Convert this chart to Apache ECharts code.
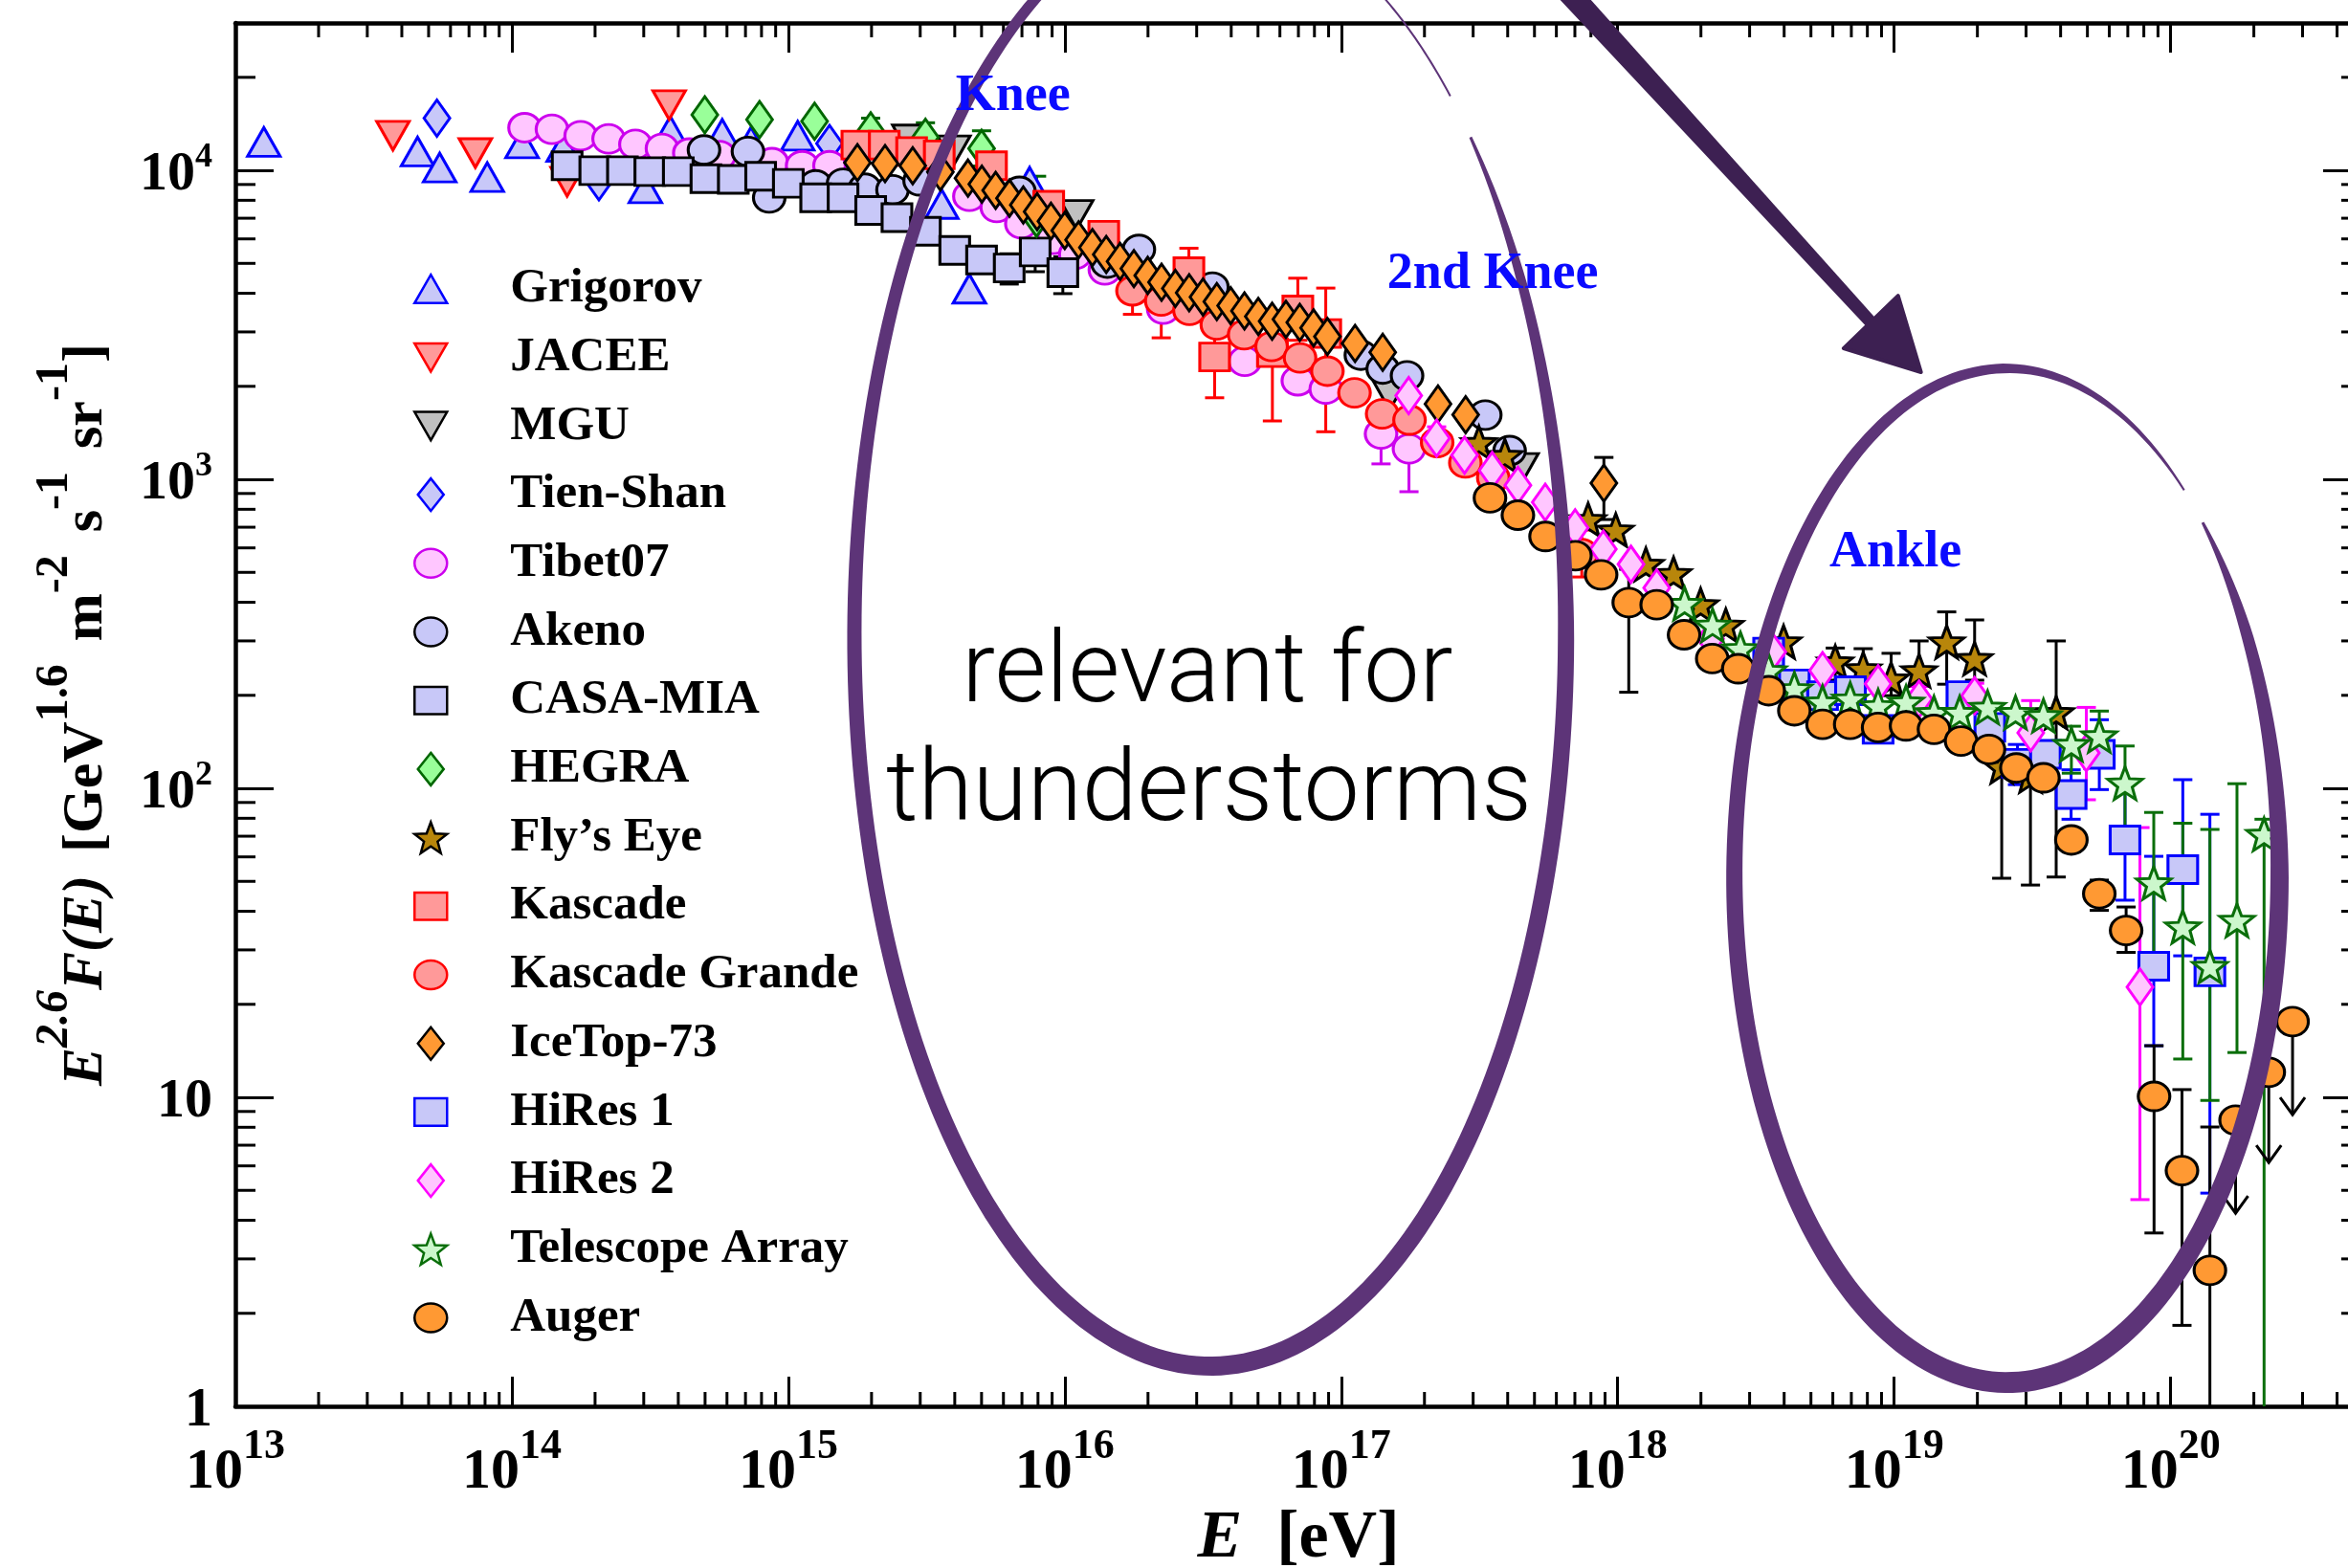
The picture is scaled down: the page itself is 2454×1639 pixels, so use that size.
<!DOCTYPE html>
<html>
<head>
<meta charset="utf-8">
<title>Cosmic ray all-particle spectrum</title>
<script src="https://cdn.jsdelivr.net/npm/echarts@6/dist/echarts.min.js"></script>
<style>
  html, body { margin: 0; padding: 0; background: #ffffff; }
  #chart { width: 2454px; height: 1639px; }
</style>
</head>
<body>
<div id="chart"></div>
<script>
// ---------------------------------------------------------------------------
// Measurements, stored as [log10(E / eV), log10(E^2.6 F(E))]
// ---------------------------------------------------------------------------
const GRIGOROV = [
  [13.103, 4.092], [13.659, 4.061], [13.739, 4.009], [13.911, 3.978], [14.037, 4.087],
  [14.186, 4.076], [14.483, 3.942], [14.573, 4.128], [14.761, 4.118], [14.865, 4.093],
  [15.034, 4.112], [15.555, 3.891], [15.655, 3.617], [15.873, 3.963]
];
const JACEE = [[13.570, 4.112], [13.868, 4.056], [14.200, 3.963], [14.569, 4.211]];
const MGU = [[15.436, 4.100], [15.599, 4.065], [16.043, 3.856], [17.175, 3.271], [17.654, 3.037]];
const TIEN_SHAN = [[13.729, 4.169], [14.315, 3.963], [15.149, 4.087]];
const TIBET07 = [
  [14.046, 4.138], [14.145, 4.133], [14.249, 4.112], [14.350, 4.102], [14.447, 4.084],
  [14.543, 4.071], [14.642, 4.056], [14.751, 4.048], [14.941, 4.025], [15.050, 4.015],
  [15.149, 4.015], [15.655, 3.916], [15.754, 3.880], [15.843, 3.827], [15.959, 3.777],
  [16.038, 3.728], [16.145, 3.678], [16.356, 3.551], [16.651, 3.382], [16.843, 3.319],
  [16.944, 3.292], [17.144, 3.147], [17.245, 3.099]
];
const AKENO = [
  [14.695, 4.066], [14.854, 4.061], [14.931, 3.911], [15.099, 3.953], [15.198, 3.958],
  [15.277, 3.942], [15.377, 3.937], [15.475, 3.966], [15.836, 3.932], [16.154, 3.700],
  [16.268, 3.744], [16.534, 3.622], [17.071, 3.402], [17.150, 3.357], [17.238, 3.335],
  [17.521, 3.208], [17.609, 3.093]
];
const CASA_MIA = [
  [14.200, 4.015], [14.300, 3.999], [14.400, 3.999], [14.499, 3.996], [14.602, 3.996],
  [14.702, 3.973], [14.801, 3.971], [14.900, 3.981], [15.000, 3.958], [15.099, 3.911],
  [15.198, 3.911], [15.298, 3.870], [15.393, 3.847], [15.496, 3.803], [15.602, 3.741],
  [15.699, 3.710], [15.799, 3.684], [15.893, 3.736], [15.993, 3.669]
];
const HEGRA = [[14.698, 4.180], [14.896, 4.164], [15.095, 4.159], [15.298, 4.128], [15.496, 4.107], [15.699, 4.071], [15.898, 3.845]];
const FLYS_EYE = [
  [17.498, 3.119], [17.592, 3.077], [17.893, 2.870], [17.993, 2.836], [18.102, 2.725],
  [18.202, 2.695], [18.300, 2.594], [18.391, 2.528], [18.600, 2.474], [18.787, 2.409],
  [18.888, 2.387], [18.989, 2.354], [19.090, 2.381], [19.190, 2.474], [19.291, 2.420],
  [19.389, 2.070], [19.493, 2.040], [19.586, 2.245]
];
const KASCADE = [
  [15.248, 4.082], [15.347, 4.082], [15.446, 4.061], [15.546, 4.050], [15.735, 4.015],
  [15.942, 3.887], [16.141, 3.790], [16.449, 3.672], [16.542, 3.396], [16.751, 3.410],
  [16.843, 3.548], [16.944, 3.472]
];
const KASCADE_GRANDE = [
  [16.245, 3.610], [16.349, 3.577], [16.451, 3.547], [16.550, 3.500], [16.649, 3.468],
  [16.748, 3.430], [16.851, 3.393], [16.950, 3.350], [17.048, 3.280], [17.148, 3.212],
  [17.247, 3.192], [17.347, 3.119], [17.449, 3.053], [17.550, 3.005], [17.870, 2.760]
];
const ICETOP_73 = [
  [15.25, 4.025], [15.35, 4.022], [15.45, 4.015], [15.55, 3.995], [15.65, 3.975],
  [15.70, 3.955], [15.75, 3.935], [15.80, 3.910], [15.85, 3.888], [15.90, 3.866],
  [15.95, 3.835], [16.00, 3.805], [16.05, 3.775], [16.10, 3.750], [16.15, 3.728],
  [16.20, 3.705], [16.25, 3.682], [16.30, 3.660], [16.35, 3.638], [16.40, 3.618],
  [16.45, 3.604], [16.50, 3.590], [16.55, 3.575], [16.60, 3.562], [16.65, 3.545],
  [16.70, 3.527], [16.75, 3.512], [16.80, 3.518], [16.85, 3.508], [16.90, 3.490],
  [16.95, 3.462], [17.05, 3.440], [17.15, 3.411], [17.35, 3.244], [17.45, 3.209],
  [17.95, 2.988]
];
const HIRES_1 = [
  [18.546, 2.441], [18.639, 2.338], [18.741, 2.300], [18.842, 2.316], [18.942, 2.191],
  [19.245, 2.300], [19.346, 2.197], [19.446, 2.081], [19.547, 2.110], [19.640, 1.980],
  [19.742, 2.110], [19.835, 1.833], [19.939, 1.424], [20.044, 1.737], [20.142, 1.406]
];
const HIRES_2 = [
  [17.244, 3.271], [17.345, 3.133], [17.446, 3.078], [17.546, 3.029], [17.639, 2.981],
  [17.738, 2.926], [17.846, 2.843], [17.948, 2.774], [18.048, 2.725], [18.141, 2.649],
  [18.336, 2.484], [18.561, 2.441], [18.741, 2.381], [18.942, 2.338], [19.090, 2.289],
  [19.291, 2.300], [19.494, 2.180], [19.695, 2.115], [19.889, 1.357]
];
const TELESCOPE_ARRAY = [
  [18.242, 2.598], [18.343, 2.528], [18.444, 2.452], [18.546, 2.381], [18.639, 2.322],
  [18.741, 2.279], [18.841, 2.289], [18.942, 2.267], [19.043, 2.279], [19.144, 2.245],
  [19.237, 2.245], [19.338, 2.262], [19.439, 2.245], [19.540, 2.235], [19.641, 2.142],
  [19.742, 2.170], [19.835, 2.017], [19.939, 1.694], [20.044, 1.552], [20.142, 1.424],
  [20.240, 1.573], [20.338, 1.851]
];
const AUGER = [
  [17.538, 2.940], [17.639, 2.884], [17.739, 2.815], [17.847, 2.753], [17.940, 2.691],
  [18.040, 2.601], [18.141, 2.594], [18.240, 2.497], [18.342, 2.420], [18.436, 2.387],
  [18.546, 2.316], [18.639, 2.251], [18.741, 2.207], [18.841, 2.207], [18.942, 2.197],
  [19.043, 2.202], [19.144, 2.191], [19.242, 2.153], [19.343, 2.126], [19.442, 2.066],
  [19.540, 2.034], [19.641, 1.833], [19.742, 1.659], [19.839, 1.540], [19.940, 1.003],
  [20.041, 0.763], [20.142, 0.440], [20.235, 0.926], [20.355, 1.081], [20.441, 1.245]
];

// Error bars: [log10 E, log10 lower, log10 upper]
const HEGRA_ERR = [[15.298, 4.087, 4.169], [15.496, 4.060, 4.154], [15.699, 4.014, 4.128], [15.898, 3.706, 3.981]];
const TIBET07_ERR = [[17.144, 3.050, 3.200], [17.245, 2.960, 3.200]];
const CASA_MIA_ERR = [[15.699, 3.670, 3.750], [15.799, 3.632, 3.730], [15.893, 3.672, 3.777], [15.993, 3.601, 3.720]];
const FLYS_EYE_ERR = [
  [18.787, 2.350, 2.454], [18.888, 2.330, 2.452], [18.989, 2.300, 2.437], [19.090, 2.330, 2.477],
  [19.190, 2.337, 2.571], [19.291, 2.350, 2.545], [19.389, 1.709, 2.257], [19.493, 1.687, 2.257],
  [19.586, 1.713, 2.477]
];
const KASCADE_ERR = [[16.141, 3.750, 3.831], [16.449, 3.600, 3.748], [16.542, 3.264, 3.470], [16.751, 3.189, 3.520], [16.843, 3.450, 3.651], [16.944, 3.154, 3.619]];
const KASCADE_GRANDE_ERR = [[16.245, 3.534, 3.680], [16.349, 3.458, 3.650], [17.870, 2.684, 2.836]];
const ICETOP_73_ERR = [[17.95, 2.870, 3.071]];
const HIRES_1_ERR = [
  [19.245, 2.270, 2.330], [19.446, 2.012, 2.142], [19.640, 1.900, 2.060], [19.742, 1.996, 2.222],
  [19.835, 1.638, 2.028], [19.939, 1.167, 1.780], [20.044, 1.458, 2.028], [20.142, 0.690, 1.916]
];
const HIRES_2_ERR = [
  [17.244, 3.202, 3.362], [17.345, 3.100, 3.170], [19.090, 2.250, 2.330], [19.291, 2.260, 2.340],
  [19.494, 2.088, 2.284], [19.695, 1.963, 2.262], [19.889, 0.669, 1.873]
];
const TELESCOPE_ARRAY_ERR = [
  [19.641, 2.049, 2.201], [19.742, 2.090, 2.250], [19.835, 1.866, 2.137], [19.939, 1.459, 1.922],
  [20.044, 1.124, 1.887], [20.142, 0.990, 1.867], [20.240, 1.145, 2.015], [20.338, 0.000, 1.900]
];
const AUGER_ERR = [
  [18.040, 2.311, 2.709], [19.742, 1.605, 1.703], [19.839, 1.469, 1.616],
  [19.940, 0.561, 1.167], [20.041, 0.262, 1.025], [20.142, 0.000, 0.904]
];
// Upper limits: [log10 E, log10 value, log10 arrow tip]
const AUGER_LIMITS = [[20.235, 0.926, 0.625], [20.355, 1.081, 0.789], [20.441, 1.245, 0.944]];

// Axis ranges (log10 exponents)
const X_EXP_RANGE = [13, 20.69];
const Y_EXP_RANGE = [0, 4.477];

// Region labels
const REGION_LABELS = [
  { text: 'Knee', at: [15.813, 4.238] },
  { text: '2nd Knee', at: [17.548, 3.663] },
  { text: 'Ankle', at: [19.005, 2.762] }
];
const NOTE_LINES = [
  { text: 'relevant for', at: [16.516, 2.362] },
  { text: 'thunderstorms', at: [16.521, 1.977] }
];

// ---------------------------------------------------------------------------
// Helpers and styles
// ---------------------------------------------------------------------------
const pow10 = e => Math.pow(10, e);
const toPoint = ([e, f]) => [pow10(e), pow10(f)];
const X_MIN = pow10(X_EXP_RANGE[0]), X_MAX = pow10(X_EXP_RANGE[1]);
const Y_MIN = pow10(Y_EXP_RANGE[0]), Y_MAX = pow10(Y_EXP_RANGE[1]);
const SERIF = 'Liberation Serif';

// Path symbols stretch to symbolSize in the plot and keep their aspect in the legend
const SYM = {
  triUp: 'path://M50,0L100,87L0,87Z',
  triDown: 'path://M0,0L100,0L50,87Z',
  diamond: 'path://M50,0L100,63L50,126L0,63Z',
  ellipse: 'path://M0,44A50,44 0 1 1 100,44A50,44 0 1 1 0,44Z',
  square: 'path://M0,0L100,0L100,84L0,84Z',
  star: 'path://M50,0L62.3,33L97.6,34.5L70,56.5L79.4,90.5L50,71L20.6,90.5L30,56.5L2.4,34.5L37.7,33Z'
};
const SIZE = { tri: [34, 30], diamond: [27, 38], ellipse: [33, 30], square: [31, 29], star: [36, 34] };

const LAVENDER = '#c8c8f8', LIGHT_RED = '#ff9999', PINK = '#ffc6ff', ORANGE = '#ff9933';

const EXPERIMENTS = [
  { name: 'Grigorov', data: GRIGOROV, err: null, symbol: SYM.triUp, size: SIZE.tri, fill: LAVENDER, stroke: '#0000ff' },
  { name: 'JACEE', data: JACEE, err: null, symbol: SYM.triDown, size: SIZE.tri, fill: LIGHT_RED, stroke: '#ff0000' },
  { name: 'MGU', data: MGU, err: null, symbol: SYM.triDown, size: SIZE.tri, fill: '#c0c0c0', stroke: '#000000' },
  { name: 'Tien-Shan', data: TIEN_SHAN, err: null, symbol: SYM.diamond, size: SIZE.diamond, fill: LAVENDER, stroke: '#0000ff' },
  { name: 'Tibet07', data: TIBET07, err: TIBET07_ERR, symbol: SYM.ellipse, size: SIZE.ellipse, fill: PINK, stroke: '#cc00ee' },
  { name: 'Akeno', data: AKENO, err: null, symbol: SYM.ellipse, size: SIZE.ellipse, fill: LAVENDER, stroke: '#000000' },
  { name: 'CASA-MIA', data: CASA_MIA, err: CASA_MIA_ERR, symbol: SYM.square, size: SIZE.square, fill: LAVENDER, stroke: '#000000' },
  { name: 'HEGRA', data: HEGRA, err: HEGRA_ERR, symbol: SYM.diamond, size: SIZE.diamond, fill: '#99ff99', stroke: '#006600' },
  { name: 'Fly\u2019s Eye', data: FLYS_EYE, err: FLYS_EYE_ERR, symbol: SYM.star, size: SIZE.star, fill: '#b8860b', stroke: '#000000' },
  { name: 'Kascade', data: KASCADE, err: KASCADE_ERR, symbol: SYM.square, size: SIZE.square, fill: LIGHT_RED, stroke: '#ff0000' },
  { name: 'Kascade Grande', data: KASCADE_GRANDE, err: KASCADE_GRANDE_ERR, symbol: SYM.ellipse, size: SIZE.ellipse, fill: LIGHT_RED, stroke: '#ff0000' },
  { name: 'IceTop-73', data: ICETOP_73, err: ICETOP_73_ERR, symbol: SYM.diamond, size: SIZE.diamond, fill: ORANGE, stroke: '#000000' },
  { name: 'HiRes 1', data: HIRES_1, err: HIRES_1_ERR, symbol: SYM.square, size: SIZE.square, fill: LAVENDER, stroke: '#0000ff' },
  { name: 'HiRes 2', data: HIRES_2, err: HIRES_2_ERR, symbol: SYM.diamond, size: SIZE.diamond, fill: PINK, stroke: '#ff00ff' },
  { name: 'Telescope Array', data: TELESCOPE_ARRAY, err: TELESCOPE_ARRAY_ERR, symbol: SYM.star, size: SIZE.star, fill: '#ccf7cc', stroke: '#0a6e0a' },
  { name: 'Auger', data: AUGER, err: AUGER_ERR, symbol: SYM.ellipse, size: SIZE.ellipse, fill: ORANGE, stroke: '#000000' }
];

// ---------------------------------------------------------------------------
// Series builders
// ---------------------------------------------------------------------------
function scatterSeries(exp) {
  return {
    type: 'scatter',
    name: exp.name,
    data: exp.data.map(toPoint),
    symbol: exp.symbol,
    symbolSize: exp.size,
    itemStyle: { color: exp.fill, borderColor: exp.stroke, borderWidth: 3, opacity: 1 },
    emphasis: { disabled: true },
    silent: true,
    z: 3
  };
}

function errorBarSeries(exp) {
  const color = exp.stroke;
  return {
    type: 'custom',
    name: exp.name + ' uncertainty',
    data: exp.err.map(([e, lo, hi]) => [pow10(e), pow10(lo), pow10(hi)]),
    encode: { x: 0, y: [1, 2] },
    silent: true,
    z: 2,
    renderItem: (params, api) => {
      const x = api.value(0);
      const pLo = api.coord([x, api.value(1)]);
      const pHi = api.coord([x, api.value(2)]);
      const hw = 10;
      const style = { stroke: color, lineWidth: 3, fill: null };
      const children = [
        { type: 'line', shape: { x1: pLo[0], y1: pLo[1], x2: pHi[0], y2: pHi[1] }, style },
        { type: 'line', shape: { x1: pHi[0] - hw, y1: pHi[1], x2: pHi[0] + hw, y2: pHi[1] }, style }
      ];
      if (api.value(1) > Y_MIN * 1.0001) {
        children.push({ type: 'line', shape: { x1: pLo[0] - hw, y1: pLo[1], x2: pLo[0] + hw, y2: pLo[1] }, style });
      }
      return { type: 'group', children };
    }
  };
}

function upperLimitSeries(rows, color) {
  return {
    type: 'custom',
    name: 'Auger upper limits',
    data: rows.map(([e, v, tip]) => [pow10(e), pow10(v), pow10(tip)]),
    encode: { x: 0, y: [1, 2] },
    silent: true,
    z: 2,
    renderItem: (params, api) => {
      const x = api.value(0);
      const p0 = api.coord([x, api.value(1)]);
      const p1 = api.coord([x, api.value(2)]);
      const style = { stroke: color, lineWidth: 3, fill: null };
      return {
        type: 'group',
        children: [
          { type: 'line', shape: { x1: p0[0], y1: p0[1], x2: p1[0], y2: p1[1] }, style },
          { type: 'polyline', shape: { points: [[p1[0] - 13, p1[1] - 18], [p1[0], p1[1]], [p1[0] + 13, p1[1] - 18]] }, style }
        ]
      };
    }
  };
}

// Minor log ticks (2..9 x 10^k) drawn on all four frame sides
const X_MINOR = [];
for (let k = 13; k <= 20; k++) for (let m = 2; m <= 9; m++) { const v = m * pow10(k); if (v < X_MAX) X_MINOR.push(v); }
const Y_MINOR = [];
for (let k = 0; k <= 4; k++) for (let m = 2; m <= 9; m++) { const v = m * pow10(k); if (v < Y_MAX) Y_MINOR.push(v); }

function minorTickSeries(values, horizontal) {
  return {
    type: 'custom',
    name: horizontal ? 'x minor ticks' : 'y minor ticks',
    data: values.map(v => horizontal ? [v, Y_MIN] : [X_MIN, v]),
    silent: true,
    clip: false,
    z: 4,
    renderItem: (params, api) => {
      const cs = params.coordSys;
      const style = { stroke: '#000', lineWidth: 3 };
      if (horizontal) {
        const px = api.coord([api.value(0), Y_MIN])[0];
        const yb = cs.y + cs.height, yt = cs.y, len = 15;
        return { type: 'group', children: [
          { type: 'line', shape: { x1: px, y1: yb, x2: px, y2: yb - len }, style },
          { type: 'line', shape: { x1: px, y1: yt, x2: px, y2: yt + len }, style }
        ] };
      }
      const py = api.coord([X_MIN, api.value(1)])[1];
      const xl = cs.x, xr = cs.x + cs.width, len = 21;
      return { type: 'group', children: [
        { type: 'line', shape: { x1: xl, y1: py, x2: xl + len, y2: py }, style },
        { type: 'line', shape: { x1: xr, y1: py, x2: xr - len, y2: py }, style }
      ] };
    }
  };
}

// ---------------------------------------------------------------------------
// Hand-drawn style annotations, anchored in data space (log10 units)
// ---------------------------------------------------------------------------
const ELLIPSES = [
  { center: [16.526, 2.495], radii: [1.287, 2.365], from: -0.75, to: 4.75,
    widths: [[-0.75, 3], [-0.5, 10], [0, 17], [1.571, 20], [3.142, 15], [4.75, 9]] },
  { center: [19.408, 1.718], radii: [0.986, 1.641], from: -0.77, to: 5.42,
    widths: [[-0.77, 3], [-0.5, 12], [0, 19], [1.571, 22], [3.142, 17], [4.712, 10], [5.42, 2]] }
];
const THIN_ARC = { ellipse: 0, from: -1.25, to: -0.83, width: 2 };
const ARROW = { tail: [17.817, 4.582], base: [18.915, 3.509], tailWidth: 24, baseWidth: 13,
  head: [[19.097, 3.347], [18.817, 3.424], [19.014, 3.594]] };

function widthAt(profile, t) {
  if (t <= profile[0][0]) return profile[0][1];
  for (let i = 1; i < profile.length; i++) {
    if (t <= profile[i][0]) {
      const [t0, w0] = profile[i - 1], [t1, w1] = profile[i];
      return w0 + (w1 - w0) * (t - t0) / (t1 - t0);
    }
  }
  return profile[profile.length - 1][1];
}

function ellipseFrame(api, el) {
  const c = api.coord([pow10(el.center[0]), pow10(el.center[1])]);
  const rx = api.coord([pow10(el.center[0] + el.radii[0]), pow10(el.center[1])])[0] - c[0];
  const ry = c[1] - api.coord([pow10(el.center[0]), pow10(el.center[1] + el.radii[1])])[1];
  return { c, rx, ry };
}

function bandPolygon(api, el) {
  const { c, rx, ry } = ellipseFrame(api, el);
  const outer = [], inner = [];
  const steps = 240;
  for (let i = 0; i <= steps; i++) {
    const t = el.from + (el.to - el.from) * i / steps;
    const w = widthAt(el.widths, t) / 2;
    const cos = Math.cos(t), sin = Math.sin(t);
    let nx = cos / rx, ny = sin / ry;
    const nl = Math.hypot(nx, ny); nx /= nl; ny /= nl;
    const px = c[0] + rx * cos, py = c[1] + ry * sin;
    outer.push([px + w * nx, py + w * ny]);
    inner.push([px - w * nx, py - w * ny]);
  }
  return outer.concat(inner.reverse());
}

const annotationSeries = {
  type: 'custom',
  name: 'annotations',
  data: [[X_MIN, Y_MIN]],
  silent: true,
  clip: false,
  z: 10,
  renderItem: (params, api) => {
    const children = [];
    const ellipseColor = '#5d3478';
    ELLIPSES.forEach(el => {
      children.push({ type: 'polygon', shape: { points: bandPolygon(api, el) }, style: { fill: ellipseColor } });
    });
    // faint single-hair segment near the top of the first loop
    {
      const { c, rx, ry } = ellipseFrame(api, ELLIPSES[THIN_ARC.ellipse]);
      const pts = [];
      for (let i = 0; i <= 40; i++) {
        const t = THIN_ARC.from + (THIN_ARC.to - THIN_ARC.from) * i / 40;
        pts.push([c[0] + rx * Math.cos(t), c[1] + ry * Math.sin(t)]);
      }
      children.push({ type: 'polyline', shape: { points: pts }, style: { stroke: ellipseColor, lineWidth: THIN_ARC.width, fill: null } });
    }
    // arrow
    const arrowColor = '#3d2052';
    const T = api.coord([pow10(ARROW.tail[0]), pow10(ARROW.tail[1])]);
    const B = api.coord([pow10(ARROW.base[0]), pow10(ARROW.base[1])]);
    const dx = B[0] - T[0], dy = B[1] - T[1], dl = Math.hypot(dx, dy);
    const nx = -dy / dl, ny = dx / dl;
    const wt = ARROW.tailWidth / 2, wb = ARROW.baseWidth / 2;
    children.push({ type: 'polygon', shape: { points: [
      [T[0] + nx * wt, T[1] + ny * wt], [B[0] + nx * wb, B[1] + ny * wb],
      [B[0] - nx * wb, B[1] - ny * wb], [T[0] - nx * wt, T[1] - ny * wt]
    ] }, style: { fill: arrowColor } });
    children.push({ type: 'polygon', shape: { points: ARROW.head.map(p => api.coord([pow10(p[0]), pow10(p[1])])) },
      style: { fill: arrowColor, stroke: arrowColor, lineWidth: 4, lineJoin: 'round' } });
    // region names
    REGION_LABELS.forEach(lab => {
      const p = api.coord([pow10(lab.at[0]), pow10(lab.at[1])]);
      children.push({ type: 'text', x: p[0], y: p[1], style: {
        text: lab.text, fill: '#0a0aff', fontFamily: SERIF, fontWeight: 'bold', fontSize: 54,
        align: 'center', verticalAlign: 'middle' } });
    });
    NOTE_LINES.forEach(line => {
      const p = api.coord([pow10(line.at[0]), pow10(line.at[1])]);
      children.push({ type: 'text', x: p[0], y: p[1], style: {
        text: line.text, fill: '#000000', fontFamily: 'Roboto, Lato, "Open Sans", sans-serif', fontWeight: 300, fontSize: 104,
        align: 'center', verticalAlign: 'middle' } });
    });
    return { type: 'group', children };
  }
};

// ---------------------------------------------------------------------------
// Axes
// ---------------------------------------------------------------------------
function decadeExponent(v) {
  const e = Math.log10(v), r = Math.round(e);
  return Math.abs(e - r) < 1e-6 ? r : null;
}
const xLabel = v => { const e = decadeExponent(v); return e === null ? '' : '{b|10}{s|' + e + '}'; };
const yLabel = v => {
  const e = decadeExponent(v);
  if (e === null) return '';
  if (e === 0) return '{b|1}';
  if (e === 1) return '{b|10}';
  return '{b|10}{s|' + e + '}';
};

const frameLine = { show: true, onZero: false, lineStyle: { color: '#000', width: 4.5 } };
const majorTickX = { show: true, inside: true, length: 31, lineStyle: { color: '#000', width: 3 } };
const majorTickY = { show: true, inside: true, length: 40, lineStyle: { color: '#000', width: 3 } };

const titleMain = { fontFamily: SERIF, fontWeight: 'bold', fontSize: 60, lineHeight: 72, verticalAlign: 'bottom', color: '#000' };
const titleSup = { fontFamily: SERIF, fontWeight: 'bold', fontSize: 48, height: 20, verticalAlign: 'top', color: '#000' };

const option = {
  animation: false,
  backgroundColor: '#ffffff',
  grid: { left: 246, right: -14, top: 24, bottom: 169, outerBoundsMode: 'none', containLabel: false },
  legend: {
    data: EXPERIMENTS.map(e => e.name),
    orient: 'vertical',
    left: 432, top: 276.5,
    itemWidth: 34, itemHeight: 34, itemGap: 20.7,
    padding: 0,
    selectedMode: false,
    itemStyle: { borderWidth: 2.5 },
    formatter: name => '{t|' + name + '}',
    textStyle: {
      color: '#000', fontFamily: SERIF, fontWeight: 'bold', fontSize: 51, lineHeight: 51,
      rich: { t: { color: '#000', fontFamily: SERIF, fontWeight: 'bold', fontSize: 51, lineHeight: 51, padding: [0, 0, 0, 61] } }
    }
  },
  xAxis: [
    {
      type: 'log', logBase: 10, min: X_MIN, max: X_MAX, position: 'bottom',
      axisLine: frameLine, axisTick: majorTickX, splitLine: { show: false }, minorTick: { show: false },
      axisLabel: {
        margin: 37, formatter: xLabel, showMaxLabel: false,
        rich: {
          b: { fontFamily: SERIF, fontWeight: 'bold', fontSize: 60, lineHeight: 62, verticalAlign: 'bottom', color: '#000' },
          s: { fontFamily: SERIF, fontWeight: 'bold', fontSize: 44, height: 12, verticalAlign: 'top', color: '#000' }
        }
      },
      name: '{ei|E}{b|[eV]}',
      nameLocation: 'middle', nameGap: 99,
      nameTextStyle: {
        rich: {
          ei: { fontFamily: SERIF, fontWeight: 'bold', fontStyle: 'italic', fontSize: 70, lineHeight: 72, verticalAlign: 'bottom', color: '#000' },
          b: { fontFamily: SERIF, fontWeight: 'bold', fontSize: 70, lineHeight: 72, verticalAlign: 'bottom', color: '#000', padding: [0, 0, 0, 36] }
        }
      }
    },
    {
      type: 'log', logBase: 10, min: X_MIN, max: X_MAX, position: 'top',
      axisLine: frameLine, axisTick: majorTickX, axisLabel: { show: false },
      splitLine: { show: false }, minorTick: { show: false }
    }
  ],
  yAxis: [
    {
      type: 'log', logBase: 10, min: Y_MIN, max: Y_MAX, position: 'left',
      axisLine: frameLine, axisTick: majorTickY, splitLine: { show: false }, minorTick: { show: false },
      axisLabel: {
        margin: 24, formatter: yLabel, showMaxLabel: false, padding: [10, 0, 0, 0],
        rich: {
          b: { fontFamily: SERIF, fontWeight: 'bold', fontSize: 58, lineHeight: 58, verticalAlign: 'bottom', color: '#000' },
          s: { fontFamily: SERIF, fontWeight: 'bold', fontSize: 36, height: 22, verticalAlign: 'top', color: '#000' }
        }
      },
      name: '{ei|E}{si|2.6}{ei|F(E)}{g|[GeV}{s|1.6}{g|m}{s|-2}{g|s}{s|-1}{g|sr}{s|-1}{b|]}',
      nameLocation: 'middle', nameGap: 126, nameRotate: 90,
      nameTextStyle: {
        rich: {
          ei: Object.assign({}, titleMain, { fontStyle: 'italic' }),
          si: Object.assign({}, titleSup, { fontStyle: 'italic' }),
          b: titleMain,
          g: Object.assign({}, titleMain, { padding: [0, 0, 0, 24] }),
          s: titleSup
        }
      }
    },
    {
      type: 'log', logBase: 10, min: Y_MIN, max: Y_MAX, position: 'right',
      axisLine: frameLine, axisTick: majorTickY, axisLabel: { show: false },
      splitLine: { show: false }, minorTick: { show: false }
    }
  ],
  series: [
    ...EXPERIMENTS.map(scatterSeries),
    ...EXPERIMENTS.filter(e => e.err).map(errorBarSeries),
    upperLimitSeries(AUGER_LIMITS, '#000000'),
    minorTickSeries(X_MINOR, true),
    minorTickSeries(Y_MINOR, false),
    annotationSeries
  ]
};

const chart = echarts.init(document.getElementById('chart'), null, { renderer: 'canvas' });
chart.setOption(option);
</script>
</body>
</html>
